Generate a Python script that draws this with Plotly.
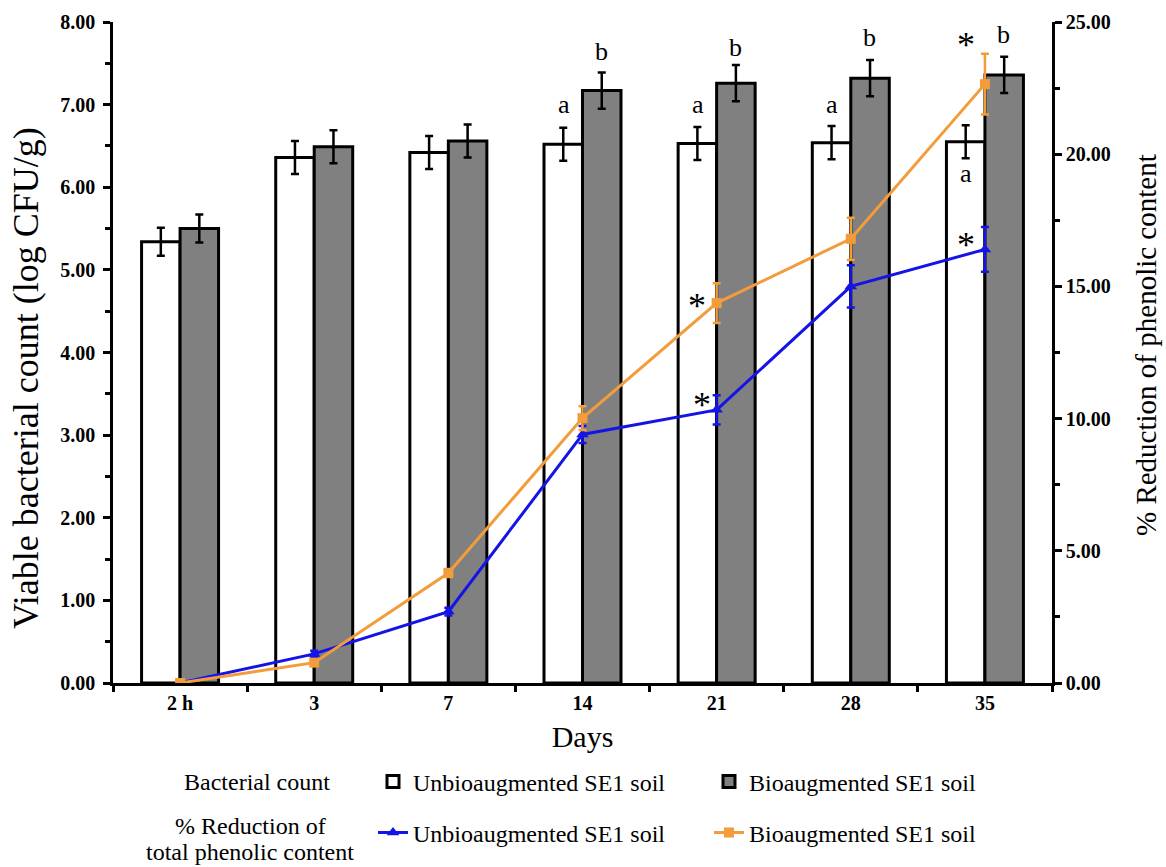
import plotly.graph_objects as go

days = ["2 h", "3", "7", "14", "21", "28", "35"]

# Viable bacterial count (log CFU/g)
count_unbio = [5.34, 6.36, 6.42, 6.52, 6.53, 6.54, 6.55]
count_unbio_err = [0.17, 0.20, 0.20, 0.20, 0.20, 0.20, 0.20]
count_bio = [5.50, 6.49, 6.56, 7.17, 7.26, 7.32, 7.36]
count_bio_err = [0.17, 0.20, 0.20, 0.22, 0.22, 0.22, 0.22]

# % Reduction of phenolic content
red_unbio = [0.0, 1.10, 2.70, 9.40, 10.33, 15.0, 16.40]
red_unbio_err = [0.0, 0.12, 0.15, 0.32, 0.55, 0.80, 0.85]
red_bio = [0.0, 0.77, 4.16, 10.02, 14.37, 16.80, 22.65]
red_bio_err = [0.0, 0.10, 0.15, 0.45, 0.75, 0.80, 1.15]

# significance labels
letters_a = ["14", "21", "28"]
letters_b = ["14", "21", "28", "35"]
letters_b_y = [7.64, 7.69, 7.81, 7.85]
stars = [("35", 24.5, "y2", -19), ("35", 16.94, "y2", -19),
         ("21", 14.64, "y2", -20), ("21", 10.9, "y2", -15)]

SERIF = "Liberation Serif"
BLUE = "#1414E6"
ORANGE = "#F39C3C"

fig = go.Figure()

fig.add_trace(go.Bar(
    x=days, y=count_unbio, name="Unbioaugmented SE1 soil",
    marker=dict(color="white", line=dict(color="black", width=3)),
    error_y=dict(type="data", array=count_unbio_err, color="black", thickness=2.5, width=4),
    legend="legend", yaxis="y"))
fig.add_trace(go.Bar(
    x=days, y=count_bio, name="Bioaugmented SE1 soil",
    marker=dict(color="#808080", line=dict(color="black", width=3)),
    error_y=dict(type="data", array=count_bio_err, color="black", thickness=2.5, width=4),
    legend="legend", yaxis="y"))

fig.add_trace(go.Scatter(
    x=days, y=red_unbio, name="Unbioaugmented SE1 soil", mode="lines+markers",
    line=dict(color=BLUE, width=3),
    marker=dict(symbol="triangle-up", size=11, color=BLUE),
    error_y=dict(type="data", array=red_unbio_err, color=BLUE, thickness=2.5, width=4),
    legend="legend2", yaxis="y2"))
fig.add_trace(go.Scatter(
    x=days, y=red_bio, name="Bioaugmented SE1 soil", mode="lines+markers",
    line=dict(color=ORANGE, width=3),
    marker=dict(symbol="square", size=10, color=ORANGE),
    error_y=dict(type="data", array=red_bio_err, color=ORANGE, thickness=2.5, width=4),
    legend="legend2", yaxis="y2"))

tickfont = dict(family=SERIF, size=20, color="black", weight="bold")

fig.update_layout(
    width=1166, height=867,
    margin=dict(l=113, r=114, t=22, b=184, autoexpand=False),
    paper_bgcolor="white", plot_bgcolor="white",
    barmode="group", bargap=0.426, bargroupgap=0,
    font=dict(family=SERIF, color="black"),
    xaxis=dict(
        type="category", range=[-0.5, len(days) - 0.5], autorange=False, automargin=False,
        showgrid=False, showline=True, linecolor="black", linewidth=2.5,
        ticks="outside", tickson="boundaries", ticklen=6, tickwidth=2.5, tickcolor="black",
        tickfont=tickfont,
        title=dict(text="Days", font=dict(family=SERIF, size=30, color="black"), standoff=14),
    ),
    yaxis=dict(
        range=[0, 8], autorange=False, automargin=False, dtick=1, tickformat=".2f",
        showgrid=False, zeroline=False,
        showline=True, linecolor="black", linewidth=2.5,
        ticks="outside", ticklen=7, tickwidth=2.5, tickcolor="black", ticklabelstandoff=4,
        minor=dict(dtick=0.5, ticks="outside", ticklen=5, tickwidth=2.5, tickcolor="black"),
        tickfont=tickfont,
    ),
    yaxis2=dict(
        range=[0, 25], autorange=False, automargin=False, dtick=5, tickformat=".2f",
        overlaying="y", side="right",
        showgrid=False, zeroline=False, showline=True, linecolor="black", linewidth=2.5,
        ticks="outside", ticklen=7, tickwidth=2.5, tickcolor="black",
        minor=dict(dtick=2.5, ticks="outside", ticklen=5, tickwidth=2.5, tickcolor="black"),
        tickfont=tickfont,
    ),
    legend=dict(orientation="h", xref="container", yref="container",
                x=373 / 1166, y=1 - 782 / 867, xanchor="left", yanchor="middle",
                font=dict(family=SERIF, size=24, color="black"),
                entrywidth=291, entrywidthmode="pixels", bgcolor="rgba(0,0,0,0)"),
    legend2=dict(orientation="h", xref="container", yref="container",
                 x=373 / 1166, y=1 - 833 / 867, xanchor="left", yanchor="middle",
                 font=dict(family=SERIF, size=24, color="black"),
                 entrywidth=291, entrywidthmode="pixels", bgcolor="rgba(0,0,0,0)"),
)

def px_to_paper_x(px):
    return (px - 113) / (1052 - 113)

def px_to_paper_y(py):
    return (683 - py) / (683 - 22)

anns = []
lab_font = dict(family=SERIF, size=26, color="black")
star_font = dict(family=SERIF, size=36, color="black")
for d in letters_a:
    anns.append(dict(x=days.index(d), y=6.97, xref="x", yref="y", text="a", showarrow=False,
                     xshift=-19, yshift=3, font=lab_font))
for d, yv in zip(letters_b, letters_b_y):
    anns.append(dict(x=days.index(d), y=yv, xref="x", yref="y", text="b", showarrow=False,
                     xshift=19, font=lab_font))
anns.append(dict(x=days.index("35"), y=6.13, xref="x", yref="y", text="a", showarrow=False,
                 xshift=-19, yshift=3, font=lab_font))
for d, yv, ax, xs in stars:
    anns.append(dict(x=days.index(d), y=yv, xref="x", yref=ax, text="*", showarrow=False,
                     xshift=xs, yshift=-10, font=star_font))
# axis titles
anns.append(dict(x=px_to_paper_x(26), y=px_to_paper_y(378), xref="paper", yref="paper",
                 text="Viable bacterial count (log CFU/g)", textangle=-90, showarrow=False,
                 xanchor="center", yanchor="middle",
                 font=dict(family=SERIF, size=36, color="black")))
anns.append(dict(x=px_to_paper_x(1146), y=px_to_paper_y(345), xref="paper", yref="paper",
                 text="% Reduction of phenolic content", textangle=-90, showarrow=False,
                 xanchor="center", yanchor="middle",
                 font=dict(family=SERIF, size=29, color="black")))
# legend group labels
anns.append(dict(x=px_to_paper_x(332), y=px_to_paper_y(782), xref="paper", yref="paper",
                 text="Bacterial count", showarrow=False, xanchor="right", yanchor="middle",
                 font=dict(family=SERIF, size=24, color="black")))
anns.append(dict(x=px_to_paper_x(250), y=px_to_paper_y(826), xref="paper", yref="paper",
                 text="% Reduction of", showarrow=False, xanchor="center", yanchor="middle",
                 font=dict(family=SERIF, size=24, color="black")))
anns.append(dict(x=px_to_paper_x(250), y=px_to_paper_y(852), xref="paper", yref="paper",
                 text="total phenolic content", showarrow=False, xanchor="center", yanchor="middle",
                 font=dict(family=SERIF, size=24, color="black")))
fig.update_layout(annotations=anns)

fig.write_html("out.html")
